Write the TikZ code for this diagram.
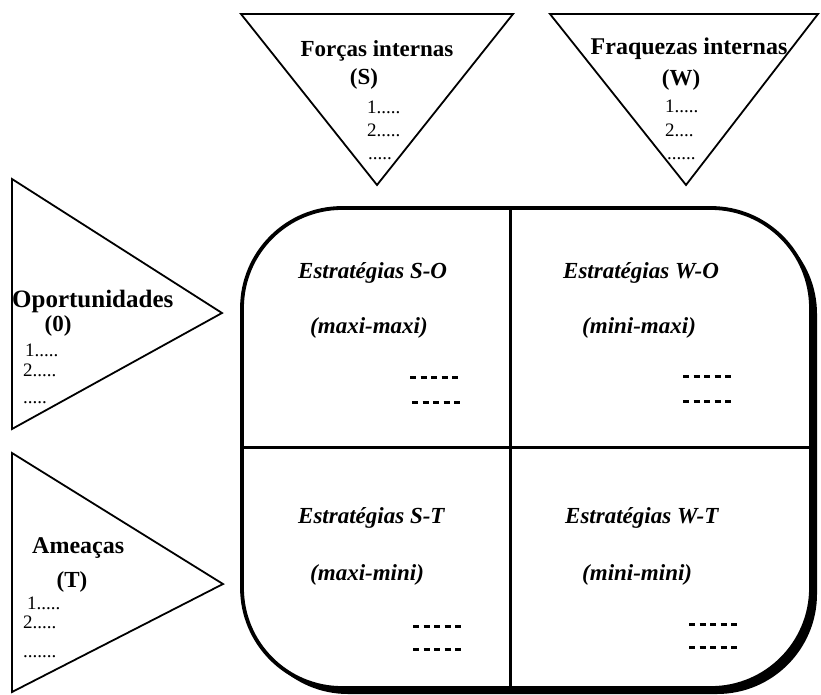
\documentclass[tikz,border=0pt]{standalone}
\usepackage{fontspec}
\setmainfont{Liberation Serif}
\newcommand{\dashbit}{\rule[5pt]{6pt}{2.6pt}}
\newcommand{\dashrow}{\dashbit\kern4.5pt\dashbit\kern4.5pt\dashbit\kern4.5pt\dashbit\kern4.5pt\dashbit}
\tikzset{
  tri/.style={draw, line width=1.8pt, line join=miter},
  ttl/.style={font=\fontsize{23}{26}\selectfont\bfseries, inner sep=0pt, anchor=base},
  ttlw/.style={ttl, anchor=base west},
  itm/.style={font=\fontsize{19}{22}\selectfont, inner sep=0pt, anchor=base west},
  strat/.style={font=\fontsize{23}{26}\selectfont\bfseries\itshape, inner sep=0pt, anchor=base west},
  dsh/.style={inner sep=0pt, anchor=base west},
  frame/.style={line width=3.8pt, rounded corners=100pt},
  divider/.style={line width=3pt},
}
\begin{document}
\begin{tikzpicture}[x=1pt,y=-1pt]
\useasboundingbox (0,0) rectangle (821,695);

% top triangles
\draw[tri] (241,14) -- (513,14) -- (377,185) -- cycle;
\draw[tri] (550,14) -- (818,14) -- (686,185) -- cycle;
% left triangles
\draw[tri] (12,179) -- (222,313) -- (12,429) -- cycle;
\draw[tri] (12,453) -- (223,584) -- (12,692) -- cycle;

% matrix frame with shadow
\fill[black, rounded corners=100pt] (248,214) rectangle (817,694);
\filldraw[frame, fill=white] (242,208) rectangle (811,688);
\coordinate (vtop) at (510,208);
\coordinate (vbot) at (510,688);
\coordinate (hleft) at (242,447);
\coordinate (hright) at (811,447);
\draw[divider] (vtop) -- (vbot);
\draw[divider] (hleft) -- (hright);

% S triangle text
\node[ttl] (fs) at (377,57) {Forças internas};
\node[ttl] (fsS) at (364,85) {(S)};
\node[itm] (fs1) at (367,114) {1.....};
\node[itm] (fs2) at (367,137) {2.....};
\node[itm] (fs3) at (368,160) {.....};

% W triangle text
\node[ttl, font=\fontsize{24}{26}\selectfont\bfseries] (fw) at (689,55) {Fraquezas internas};
\node[ttl] (fwW) at (681,86) {(W)};
\node[itm] (fw1) at (665,113) {1.....};
\node[itm] (fw2) at (665,137) {2....};
\node[itm] (fw3) at (667,160) {......};

% O triangle text
\node[ttlw, font=\fontsize{25}{26}\selectfont\bfseries] (op) at (12,307) {Oportunidades};
\node[ttl] (opO) at (58,331) {(0)};
\node[itm] (op1) at (25,356) {1.....};
\node[itm] (op2) at (23,376) {2.....};
\node[itm] (op3) at (23,403) {.....};

% T triangle text
\node[ttlw, font=\fontsize{24}{26}\selectfont\bfseries] (am) at (32,553) {Ameaças};
\node[ttl] (amT) at (72,587) {(T)};
\node[itm] (am1) at (27,609) {1.....};
\node[itm] (am2) at (23,628) {2.....};
\node[itm] (am3) at (23,657) {.......};

% quadrants
\node[strat] (so) at (298,278) {Estratégias S-O};
\node[strat] (so2) at (310,333) {(maxi-maxi)};
\node[dsh] (sod1) at (410,384) {\dashrow};
\node[dsh] (sod2) at (412,409) {\dashrow};

\node[strat] (wo) at (563,278) {Estratégias W-O};
\node[strat] (wo2) at (582,333) {(mini-maxi)};
\node[dsh] (wod1) at (683,383) {\dashrow};
\node[dsh] (wod2) at (683,408) {\dashrow};

\node[strat] (st) at (298,523) {Estratégias S-T};
\node[strat] (st2) at (310,580) {(maxi-mini)};
\node[dsh] (std1) at (413,633) {\dashrow};
\node[dsh] (std2) at (413,656) {\dashrow};

\node[strat] (wt) at (565,523) {Estratégias W-T};
\node[strat] (wt2) at (582,580) {(mini-mini)};
\node[dsh] (wtd1) at (689,631) {\dashrow};
\node[dsh] (wtd2) at (689,654) {\dashrow};
\end{tikzpicture}
\end{document}
